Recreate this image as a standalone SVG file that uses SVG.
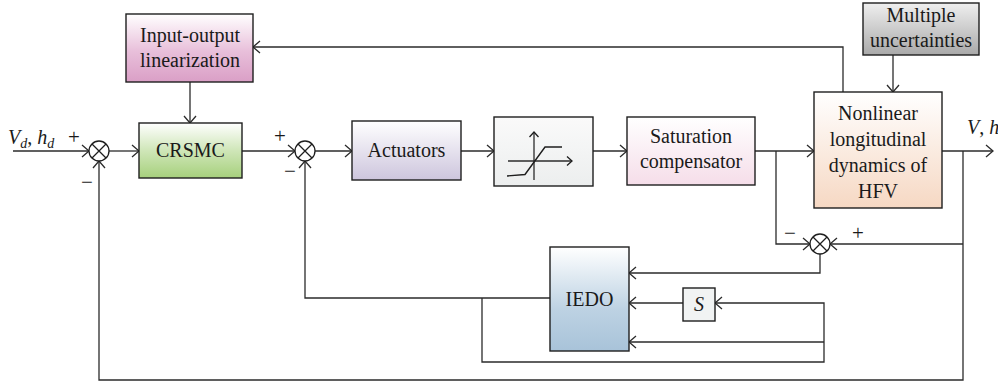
<svg xmlns="http://www.w3.org/2000/svg" width="998" height="383" viewBox="0 0 998 383">
  <defs>
    <style>
      .box { stroke: #1e1e1e; stroke-width: 1.4; }
      .wire { fill: none; stroke: #2b2b2b; stroke-width: 1.3; }
      .arr { marker-end: url(#head); }
      .sum { fill: #ffffff; stroke: #1e1e1e; stroke-width: 1.3; }
      .sumx { stroke: #1e1e1e; stroke-width: 1.3; }
      text { font-family: "Liberation Serif", "Times New Roman", serif; font-size: 20px; fill: #1a1a1a; }
      .c { text-anchor: middle; }
      .sign { font-size: 21px; text-anchor: middle; }
      .it { font-style: italic; }
    </style>
    <marker id="head" viewBox="-8 -7 9 14" refX="0" refY="0" markerWidth="9" markerHeight="14" markerUnits="userSpaceOnUse" orient="auto">
      <path d="M-7,-6 L0,0 L-7,6" fill="none" stroke="#2b2b2b" stroke-width="1.3"/>
    </marker>
    <marker id="smallhead" viewBox="-6 -5 7 10" refX="0" refY="0" markerWidth="7" markerHeight="10" markerUnits="userSpaceOnUse" orient="auto">
      <path d="M-5,-4.5 L0,0 L-5,4.5" fill="none" stroke="#1e1e1e" stroke-width="1.3"/>
    </marker>
    <linearGradient id="gPink" x1="0" y1="0" x2="0" y2="1">
      <stop offset="0" stop-color="#ffffff"/>
      <stop offset="0.55" stop-color="#e8bfda"/>
      <stop offset="1" stop-color="#da9fc6"/>
    </linearGradient>
    <linearGradient id="gGreen" x1="0" y1="0" x2="0" y2="1">
      <stop offset="0" stop-color="#ffffff"/>
      <stop offset="0.5" stop-color="#cfe6b8"/>
      <stop offset="1" stop-color="#a6d07c"/>
    </linearGradient>
    <linearGradient id="gLav" x1="0" y1="0" x2="0" y2="1">
      <stop offset="0" stop-color="#ffffff"/>
      <stop offset="1" stop-color="#cdc5dd"/>
    </linearGradient>
    <linearGradient id="gGrey" x1="0" y1="0" x2="0" y2="1">
      <stop offset="0" stop-color="#fafafa"/>
      <stop offset="1" stop-color="#eceeee"/>
    </linearGradient>
    <linearGradient id="gRose" x1="0" y1="0" x2="0" y2="1">
      <stop offset="0" stop-color="#ffffff"/>
      <stop offset="1" stop-color="#f5dde9"/>
    </linearGradient>
    <linearGradient id="gPeach" x1="0" y1="0" x2="0" y2="1">
      <stop offset="0" stop-color="#ffffff"/>
      <stop offset="1" stop-color="#f6d8c3"/>
    </linearGradient>
    <linearGradient id="gDark" x1="0" y1="0" x2="0" y2="1">
      <stop offset="0" stop-color="#efefef"/>
      <stop offset="1" stop-color="#a9a9a9"/>
    </linearGradient>
    <linearGradient id="gBlue" x1="0" y1="0" x2="0" y2="1">
      <stop offset="0" stop-color="#ffffff"/>
      <stop offset="0.6" stop-color="#bdd2e3"/>
      <stop offset="1" stop-color="#a8c3d9"/>
    </linearGradient>
  </defs>

  <rect width="998" height="383" fill="#ffffff"/>

  <!-- signal lines -->
  <g id="connectors">
    <path class="wire arr" d="M13,151 H89"/>
    <path class="wire arr" d="M109,151 H139"/>
    <path class="wire arr" d="M190,82 V123"/>
    <path class="wire arr" d="M242,151 H295"/>
    <path class="wire arr" d="M315,151 H352"/>
    <path class="wire arr" d="M461,151 H494"/>
    <path class="wire arr" d="M593,151 H627"/>
    <path class="wire arr" d="M755,151 H814"/>
    <path class="wire arr" d="M942,151 H993"/>
    <path class="wire arr" d="M893,55 V92"/>
    <path class="wire arr" d="M843,92 V47 H253"/>
    <path class="wire arr" d="M776,151 V244 H810"/>
    <path class="wire arr" d="M963,151 V380 H99 V161"/>
    <path class="wire arr" d="M963,244 H830"/>
    <path class="wire arr" d="M820,254 V273 H629"/>
    <path class="wire arr" d="M550,298 H305 V161"/>
    <path class="wire arr" d="M482,298 V362 H824 V303 H715"/>
    <path class="wire arr" d="M824,342 H629"/>
    <path class="wire arr" d="M683,303 H629"/>
  </g>

  <!-- summing junctions -->
  <g id="sum1">
    <circle class="sum" cx="99" cy="151" r="10"/>
    <path class="sumx" d="M92,144 L106,158 M106,144 L92,158"/>
  </g>
  <g id="sum2">
    <circle class="sum" cx="305" cy="151" r="10"/>
    <path class="sumx" d="M298,144 L312,158 M312,144 L298,158"/>
  </g>
  <g id="sum3">
    <circle class="sum" cx="820" cy="244" r="10"/>
    <path class="sumx" d="M813,237 L827,251 M827,237 L813,251"/>
  </g>

  <!-- blocks -->
  <g id="io-linearization">
    <rect class="box" x="126" y="14" width="127" height="68" fill="url(#gPink)"/>
    <text class="c" x="190" y="42">Input-output</text>
    <text class="c" x="190" y="67">linearization</text>
  </g>
  <g id="crsmc">
    <rect class="box" x="139" y="123" width="103" height="55" fill="url(#gGreen)"/>
    <text class="c" x="190.5" y="157">CRSMC</text>
  </g>
  <g id="actuators">
    <rect class="box" x="352" y="121" width="109" height="59" fill="url(#gLav)"/>
    <text class="c" x="406.5" y="157">Actuators</text>
  </g>
  <g id="saturation">
    <rect class="box" x="494" y="117" width="99" height="69" fill="url(#gGrey)"/>
    <path class="wire" d="M508,161 H572" marker-end="url(#smallhead)"/>
    <path class="wire" d="M534,180 V132" marker-end="url(#smallhead)"/>
    <path fill="none" stroke="#1e1e1e" stroke-width="1.4" d="M507,176 L525,174.5 L545,147 H562"/>
  </g>
  <g id="sat-compensator">
    <rect class="box" x="627" y="117" width="128" height="68" fill="url(#gRose)"/>
    <text class="c" x="691" y="143">Saturation</text>
    <text class="c" x="691" y="168">compensator</text>
  </g>
  <g id="hfv-dynamics">
    <rect class="box" x="814" y="92" width="128" height="116" fill="url(#gPeach)"/>
    <text class="c" x="878" y="120">Nonlinear</text>
    <text class="c" x="878" y="146">longitudinal</text>
    <text class="c" x="878" y="172">dynamics of</text>
    <text class="c" x="878" y="198">HFV</text>
  </g>
  <g id="uncertainties">
    <rect class="box" x="863" y="3" width="116" height="52" fill="url(#gDark)"/>
    <text class="c" x="921" y="22">Multiple</text>
    <text class="c" x="921" y="47">uncertainties</text>
  </g>
  <g id="iedo">
    <rect class="box" x="550" y="247" width="79" height="104" fill="url(#gBlue)"/>
    <text class="c" x="589.5" y="306">IEDO</text>
  </g>
  <g id="s-block">
    <rect class="box" x="683" y="288" width="32" height="33" fill="#f1f3f3"/>
    <text class="c it" x="699" y="311">S</text>
  </g>

  <!-- signal names and signs -->
  <g id="labels">
    <text x="8" y="144"><tspan class="it">V</tspan><tspan class="it" font-size="14" dy="4">d</tspan><tspan dy="-4">, </tspan><tspan class="it">h</tspan><tspan class="it" font-size="14" dy="4">d</tspan></text>
    <text class="sign" x="74" y="144">+</text>
    <text class="sign" x="87" y="189">−</text>
    <text class="sign" x="280" y="143">+</text>
    <text class="sign" x="290" y="178">−</text>
    <text class="sign" x="790" y="240">−</text>
    <text class="sign" x="858" y="240">+</text>
    <text x="967" y="134"><tspan class="it">V</tspan>, <tspan class="it">h</tspan></text>
  </g>
</svg>
